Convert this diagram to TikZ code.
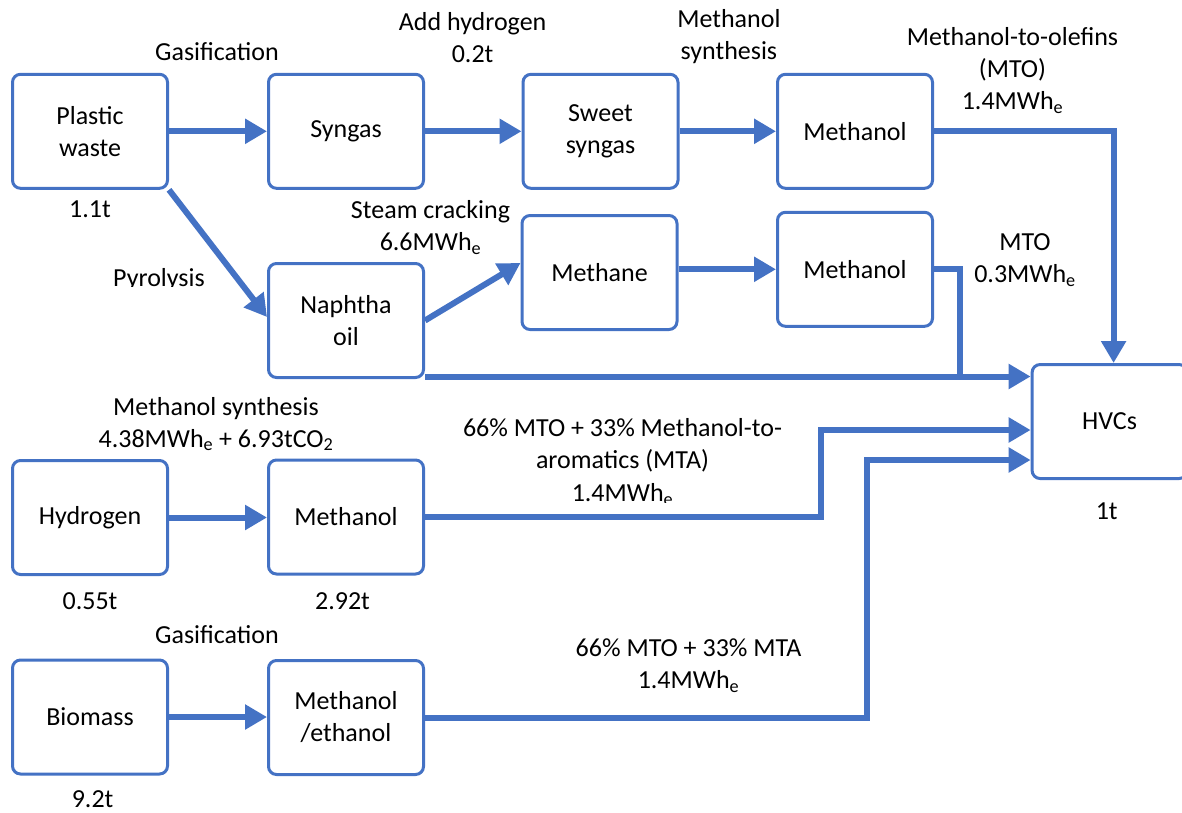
\documentclass[tikz,border=0pt]{standalone}
\usepackage{fontspec}
\setmainfont{Carlito}
\usetikzlibrary{arrows.meta,calc}
\definecolor{flowblue}{HTML}{4472C4}
\begin{document}
\begin{tikzpicture}[x=1pt,y=-1pt,
  every node/.style={font=\fontsize{26}{32}\selectfont, align=center, inner sep=0pt},
  procbox/.style={draw=flowblue, line width=3pt, rounded corners=8pt, minimum width=155pt, minimum height=114pt},
  flow/.style={draw=flowblue, line width=6pt, -{Triangle[length=22pt,width=24pt]}},
  plainflow/.style={draw=flowblue, line width=6pt}]
\useasboundingbox (0,0) rectangle (1182,812);
\clip (0,0) rectangle (1182,812);

% boxes
\node[procbox] (plastic) at (90,131.3) {Plastic\\waste};
\node[procbox] (syngas) at (346,131.3) {Syngas};
\node[procbox] (sweet) at (600.5,131.3) {Sweet\\syngas};
\node[procbox] (meth1) at (855,131.3) {Methanol};
\node[procbox] (methane) at (599.5,272.5) {Methane};
\node[procbox] (meth2) at (855,269.3) {Methanol};
\node[procbox] (naphtha) at (346,320.5) {Naphtha\\oil};
\node[procbox] (hvc) at (1109.6,421.5) {HVCs};
\node[procbox] (hydrogen) at (90,517.5) {Hydrogen};
\node[procbox] (meth3) at (346,517) {Methanol};
\node[procbox] (biomass) at (90,717) {Biomass};
\node[procbox] (methe) at (346,717.5) {Methanol\\/ethanol};

% helper coordinates
\coordinate (nl) at ($(naphtha.south east)+(0,-2.5)$);
\coordinate (h1) at ($(hvc.west)+(0,8.5)$);
\coordinate (h2) at ($(hvc.west)+(0,38.5)$);

% connectors
\draw[flow] (plastic.east) -- (syngas.west);
\draw[flow] (syngas.east) -- (sweet.west);
\draw[flow] (sweet.east) -- (meth1.west);
\draw[flow] (plastic.south east) -- ($(naphtha.west)+(0,-3.5)$);
\draw[flow] (naphtha.east) -- ($(methane.west)+(0,-9.5)$);
\draw[flow] (methane.east |- meth2.west) -- (meth2.west);
\draw[flow] (meth1.east) -| ([xshift=4pt]hvc.north);
\draw[plainflow] ([xshift=-3pt]meth2.east) -| ($(meth2.east |- nl)+(26,0)$);
\draw[flow] (nl) -- (nl -| hvc.west);
\draw[flow] (hydrogen.east) -- (meth3.west |- hydrogen.east);
\draw[flow] (biomass.east) -- (methe.west |- biomass.east);
\draw[flow] (meth3.east) -- ++(396,0) |- (h1);
\draw[flow] (methe.east) -- ++(442,0) |- (h2);

% labels
\node (lgas1) at (217,51.7) {Gasification};
\node (laddh) at (472.6,37.2) {Add hydrogen\\0.2t};
\node (lmsyn) at (728.9,36.7) {Methanol\\synthesis};
\node (lmto1) at (1012.5,70.7) {Methanol-to-olefins\\(MTO)\\1.4MWh\textsubscript{e}};
\node (l11t) at (90,209) {1.1t};
\node (lsteam) at (430.5,227.8) {Steam cracking\\6.6MWh\textsubscript{e}};
\begin{scope}
\clip (80,240) rectangle (240,286.5);
\node[anchor=base] (lpyro) at (159,286) {Pyrolysis};
\end{scope}
\node (lmto2) at (1025,260) {MTO\\0.3MWh\textsubscript{e}};
\node (lmsyn2) at (216,424) {Methanol synthesis\\4.38MWh\textsubscript{e} + 6.93tCO\textsubscript{2}};
\node (lmix1) at (622.5,444.9) {66\% MTO + 33\% Methanol-to-\\aromatics (MTA)};
\begin{scope}
\clip (520,470) rectangle (720,502);
\node[anchor=base] (lmix1e) at (622.5,501.5) {1.4MWh\textsubscript{e}};
\end{scope}
\node (l1t) at (1106.7,511.7) {1t};
\node (l055) at (90,601) {0.55t};
\node (l292) at (342.5,601) {2.92t};
\node (lgas2) at (217,634.3) {Gasification};
\node (lmix2) at (688.5,665.5) {66\% MTO + 33\% MTA\\1.4MWh\textsubscript{e}};
\node (l92) at (92.6,799) {9.2t};
\end{tikzpicture}
\end{document}
